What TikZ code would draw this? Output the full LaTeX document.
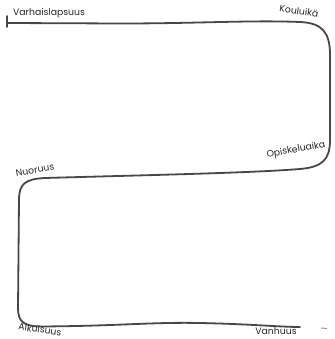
\documentclass[tikz,border=0pt]{standalone}
\usepackage{fontspec}
\setmainfont{Poppins}
\begin{document}
\begin{tikzpicture}[x=1pt,y=-1pt,
  road/.style={draw=black!72,line width=1.8pt,line cap=round,line join=round},
  lbl/.style={font=\fontsize{9.3}{10}\selectfont,text=black!85,inner sep=0pt}]
\useasboundingbox (0,0) rectangle (334,339);
% main path
\draw[road] (7,23) -- (120,23.5) .. controls (200,23.5) and (250,20) .. (300,22)
  .. controls (322,23) and (330,32) .. (330,55)
  -- (330,140)
  .. controls (330,160) and (322,167) .. (300,169)
  .. controls (250,173) and (150,175) .. (45,178)
  .. controls (25,179) and (19,184) .. (19,200)
  -- (18,308)
  .. controls (18,322) and (24,326) .. (40,326.5)
  .. controls (120,326) and (150,322) .. (200,323)
  .. controls (250,324) and (280,327) .. (300,327);
% start tick
\draw[road,line width=1.6pt] (7,16) -- (7,27);
% stray mark
\draw[black!40,line width=1pt] (321,328) -- (327,328.5);
% labels
\node[lbl] (v) at (49,13) {Varhaislapsuus};
\node[lbl,rotate=-8] (k) at (299,11) {Kouluikä};
\node[lbl,rotate=10] (o) at (296,150) {Opiskeluaika};
\node[lbl,rotate=9] (n) at (35,170) {Nuoruus};
\node[lbl,rotate=-8] (a) at (40,329.5) {Aikuisuus};
\node[lbl] (h) at (276,331.5) {Vanhuus};
\end{tikzpicture}
\end{document}
